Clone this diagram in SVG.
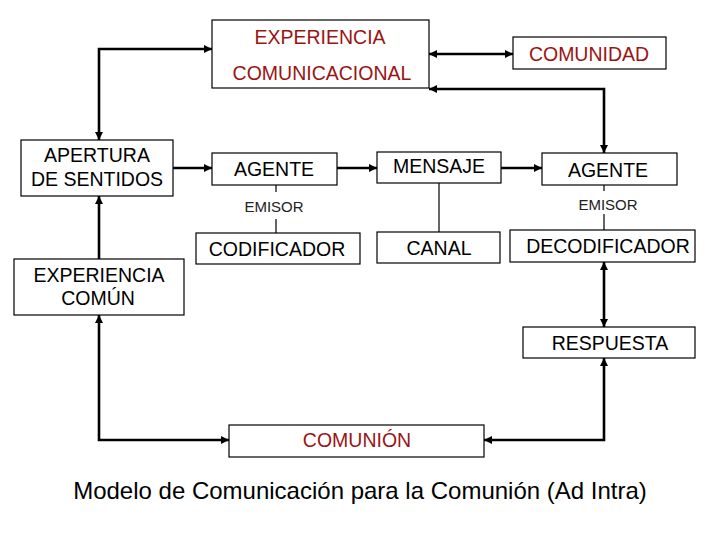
<svg xmlns="http://www.w3.org/2000/svg" width="720" height="540" viewBox="0 0 720 540">
<style>
.box{fill:#fff;stroke:#000;stroke-width:1.2}
text{font-family:"Liberation Sans",Arial,sans-serif;text-anchor:middle;fill:#000}
.t{font-size:19.5px}
.red{fill:#9a1414}
.em{font-size:15px;fill:#222}
.cap{font-size:24px}
.c{fill:none;stroke:#000;stroke-width:2.6}
.thin{fill:none;stroke:#000;stroke-width:1.2}
</style>
<defs>
<marker id="ah" viewBox="0 0 10 10" refX="10" refY="5" markerUnits="userSpaceOnUse" markerWidth="9" markerHeight="8" orient="auto-start-reverse">
<path d="M0,0 L10,5 L0,10 z" fill="#000"/>
</marker>
</defs>
<rect width="720" height="540" fill="#fff"/>
<g id="connectors">
<path class="c" d="M99,140 V49 H212" marker-start="url(#ah)" marker-end="url(#ah)"/>
<path class="c" d="M429,54 H513" marker-start="url(#ah)" marker-end="url(#ah)"/>
<path class="c" d="M429,89 H604 V153" marker-start="url(#ah)" marker-end="url(#ah)"/>
<path class="c" d="M173,168 H212" marker-end="url(#ah)"/>
<path class="c" d="M337,168 H377" marker-end="url(#ah)"/>
<path class="c" d="M501,168 H542" marker-end="url(#ah)"/>
<path class="c" d="M99,259 V196" marker-end="url(#ah)"/>
<path class="c" d="M99,315 V440 H229" marker-start="url(#ah)" marker-end="url(#ah)"/>
<path class="c" d="M484,440 H604 V358" marker-start="url(#ah)" marker-end="url(#ah)"/>
<path class="c" d="M604,262 V327" marker-start="url(#ah)" marker-end="url(#ah)"/>
<path class="thin" d="M276,185 V192 M276,219 V233 M439,183 V232 M604,185 V191 M604,214 V230"/>
</g>
<g id="exp-comunicacional">
<rect class="box" x="212" y="20" width="217" height="68"/>
<text class="t red" x="320" y="44">EXPERIENCIA</text>
<text class="t red" x="322" y="80">COMUNICACIONAL</text>
</g>
<g id="comunidad">
<rect class="box" x="513" y="37" width="153" height="32"/>
<text class="t red" x="589" y="61">COMUNIDAD</text>
</g>
<g id="apertura">
<rect class="box" x="21" y="140" width="152" height="56"/>
<text class="t" x="97" y="162">APERTURA</text>
<text class="t" x="97" y="186">DE SENTIDOS</text>
</g>
<g id="agente-emisor">
<rect class="box" x="212" y="153" width="125" height="32"/>
<text class="t" x="274" y="176">AGENTE</text>
<text class="em" x="274" y="212">EMISOR</text>
</g>
<g id="mensaje">
<rect class="box" x="377" y="152" width="124" height="31"/>
<text class="t" x="439" y="173">MENSAJE</text>
</g>
<g id="agente-receptor">
<rect class="box" x="542" y="153" width="135" height="32"/>
<text class="t" x="608" y="177">AGENTE</text>
<text class="em" x="608" y="210">EMISOR</text>
</g>
<g id="codificador">
<rect class="box" x="196" y="233" width="164" height="31"/>
<text class="t" x="277" y="256">CODIFICADOR</text>
</g>
<g id="canal">
<rect class="box" x="377" y="232" width="123" height="31"/>
<text class="t" x="439" y="255">CANAL</text>
</g>
<g id="decodificador">
<rect class="box" x="510" y="230" width="185" height="32"/>
<text class="t" x="608" y="253">DECODIFICADOR</text>
</g>
<g id="respuesta">
<rect class="box" x="523" y="327" width="172" height="31"/>
<text class="t" x="610" y="350">RESPUESTA</text>
</g>
<g id="experiencia-comun">
<rect class="box" x="14" y="259" width="170" height="56"/>
<text class="t" x="99" y="282">EXPERIENCIA</text>
<text class="t" x="98" y="305">COMÚN</text>
</g>
<g id="comunion">
<rect class="box" x="229" y="425" width="255" height="32"/>
<text class="t red" x="357" y="447">COMUNIÓN</text>
</g>
<text class="cap" x="360" y="499">Modelo de Comunicación para la Comunión (Ad Intra)</text>
</svg>
